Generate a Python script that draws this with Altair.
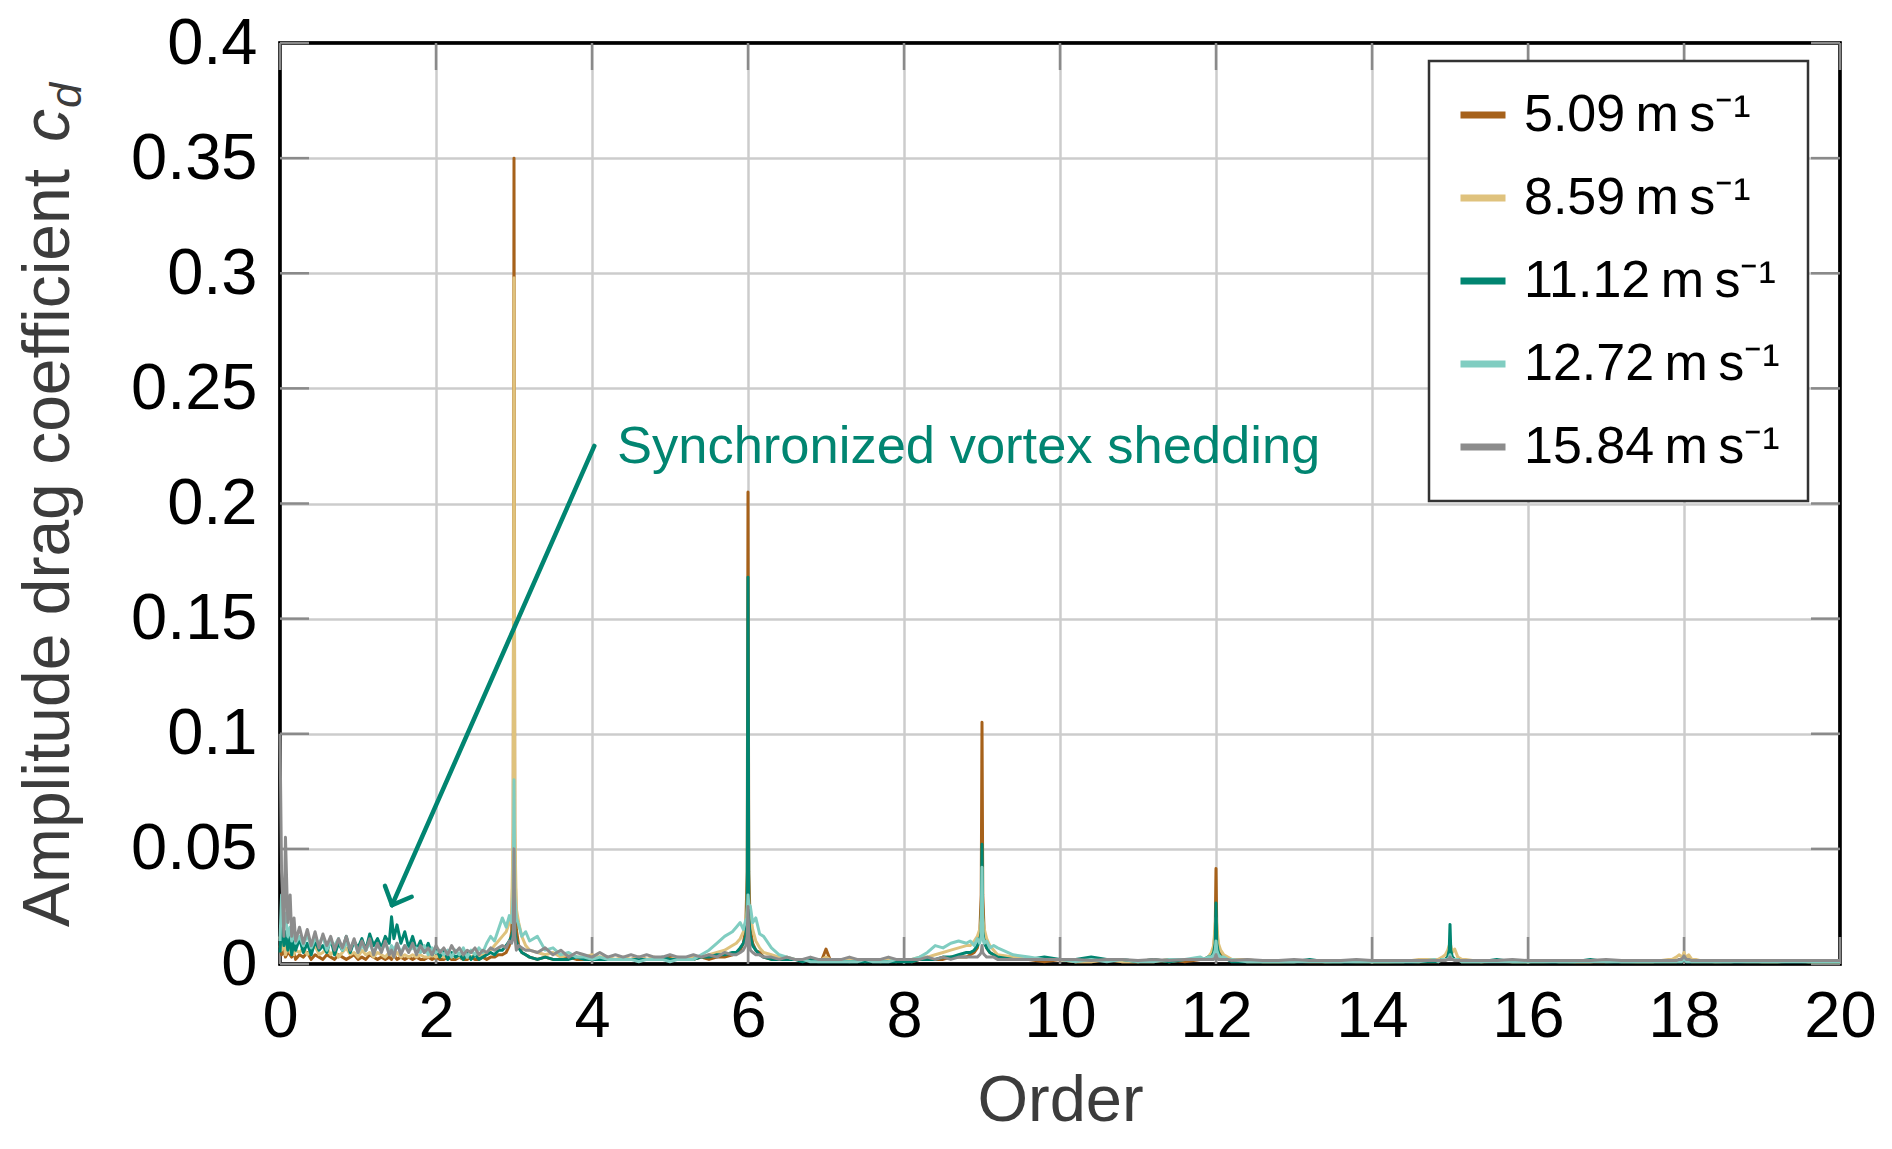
import altair as alt
import pandas as pd

FONT = "Liberation Sans"

# ---------------- data ----------------
ORDER = [
    0.00, 0.02, 0.05, 0.07, 0.10, 0.13, 0.15, 0.18, 0.20, 0.25,
    0.30, 0.35, 0.40, 0.45, 0.50, 0.55, 0.60, 0.65, 0.70, 0.75,
    0.80, 0.85, 0.90, 0.95, 1.00, 1.05, 1.10, 1.15, 1.20, 1.25,
    1.30, 1.35, 1.40, 1.43, 1.46, 1.50, 1.55, 1.60, 1.65, 1.70,
    1.75, 1.80, 1.85, 1.90, 1.95, 2.00, 2.05, 2.10, 2.15, 2.20,
    2.25, 2.30, 2.35, 2.40, 2.45, 2.50, 2.55, 2.60, 2.65, 2.70,
    2.75, 2.80,
    2.85, 2.90, 2.94, 2.97, 2.99, 3.00, 3.01, 3.03, 3.06, 3.10, 3.15,
    3.2, 3.3, 3.4, 3.5, 3.6, 3.7, 3.8, 3.9, 4.0, 4.1, 4.2, 4.3, 4.4, 4.5,
    4.6, 4.7, 4.8, 4.9, 5.0, 5.1, 5.2, 5.3, 5.4, 5.5, 5.6, 5.7, 5.8,
    5.85, 5.90, 5.94, 5.97, 5.99, 6.00, 6.01, 6.03, 6.06, 6.10, 6.15,
    6.2, 6.3, 6.4, 6.5, 6.6, 6.7, 6.8, 6.9,
    6.95, 7.0, 7.05,
    7.1, 7.2, 7.3, 7.4, 7.5, 7.6, 7.7, 7.8, 7.9, 8.0, 8.1, 8.2, 8.3, 8.4,
    8.5, 8.6, 8.7, 8.8,
    8.85, 8.90, 8.94, 8.97, 8.99, 9.00, 9.01, 9.03, 9.06, 9.10, 9.15,
    9.2, 9.4, 9.6, 9.8, 10.0, 10.2, 10.4, 10.6, 10.8, 11.0, 11.2, 11.4, 11.6, 11.8,
    11.85, 11.90, 11.94, 11.97, 11.99, 12.00, 12.01, 12.03, 12.06, 12.10, 12.15,
    12.2, 12.4, 12.6, 12.8, 13.0, 13.2, 13.4, 13.6, 13.8, 14.0, 14.2, 14.4, 14.6, 14.8,
    14.85, 14.90, 14.94, 14.97, 14.99, 15.00, 15.01, 15.03, 15.06, 15.10, 15.15,
    15.2, 15.4, 15.6, 15.8, 16.0, 16.2, 16.4, 16.6, 16.8, 17.0, 17.2, 17.4, 17.6, 17.8,
    17.85, 17.90, 17.94, 17.97, 17.99, 18.00, 18.01, 18.03, 18.06, 18.10, 18.15,
    18.2, 18.4, 18.6, 18.8, 19.0, 19.2, 19.4, 19.6, 19.8, 20.0,
]

AMP_509 = [
    0.008, 0.004, 0.006, 0.003, 0.005, 0.004, 0.003, 0.005, 0.002, 0.004,
    0.003, 0.005, 0.002, 0.004, 0.003, 0.002, 0.004, 0.003, 0.002, 0.004,
    0.003, 0.002, 0.003, 0.004, 0.002, 0.003, 0.002, 0.004, 0.003, 0.002,
    0.003, 0.002, 0.003, 0.002, 0.004, 0.002, 0.003, 0.002, 0.003, 0.002,
    0.003, 0.002, 0.002, 0.003, 0.002, 0.003, 0.002, 0.002, 0.003, 0.002,
    0.002, 0.003, 0.002, 0.002, 0.003, 0.002, 0.002, 0.003, 0.002, 0.003,
    0.003, 0.004,
    0.004, 0.005, 0.008, 0.014, 0.050, 0.350, 0.050, 0.015, 0.008, 0.005, 0.004,
    0.003, 0.002, 0.003, 0.002, 0.002, 0.003, 0.002, 0.002, 0.002, 0.003, 0.002, 0.002, 0.002, 0.002,
    0.003, 0.002, 0.002, 0.002, 0.003, 0.002, 0.002, 0.002, 0.003, 0.002, 0.003, 0.003, 0.004,
    0.005, 0.006, 0.009, 0.015, 0.040, 0.205, 0.040, 0.015, 0.009, 0.006, 0.005,
    0.003, 0.002, 0.002, 0.002, 0.002, 0.002, 0.002, 0.002,
    0.002, 0.0065, 0.002,
    0.002, 0.002, 0.001, 0.002, 0.001, 0.002, 0.001, 0.002, 0.001, 0.002, 0.001, 0.002, 0.002, 0.002,
    0.002, 0.003, 0.003, 0.003,
    0.004, 0.005, 0.007, 0.012, 0.030, 0.105, 0.030, 0.012, 0.007, 0.005, 0.004,
    0.003, 0.002, 0.002, 0.001, 0.002, 0.001, 0.001, 0.002, 0.001, 0.001, 0.001, 0.002, 0.001, 0.002,
    0.002, 0.003, 0.004, 0.007, 0.015, 0.0415, 0.015, 0.007, 0.004, 0.003, 0.002,
    0.002, 0.001, 0.001, 0.001, 0.0012, 0.001, 0.001, 0.0012, 0.001, 0.001, 0.001, 0.0012, 0.001, 0.001,
    0.001, 0.002, 0.002, 0.003, 0.004, 0.006, 0.004, 0.003, 0.002, 0.002, 0.001,
    0.001, 0.001, 0.0012, 0.001, 0.001, 0.001, 0.0012, 0.001, 0.001, 0.001, 0.0012, 0.001, 0.001, 0.001,
    0.001, 0.001, 0.002, 0.002, 0.003, 0.003, 0.003, 0.002, 0.002, 0.001, 0.001,
    0.001, 0.001, 0.0012, 0.001, 0.001, 0.001, 0.0012, 0.001, 0.001, 0.001,
]

AMP_859 = [
    0.012, 0.006, 0.010, 0.004, 0.008, 0.005, 0.007, 0.004, 0.006, 0.005,
    0.007, 0.004, 0.006, 0.008, 0.004, 0.005, 0.007, 0.004, 0.006, 0.003,
    0.005, 0.007, 0.004, 0.005, 0.003, 0.006, 0.004, 0.005, 0.003, 0.005,
    0.004, 0.003, 0.005, 0.004, 0.003, 0.005, 0.003, 0.004, 0.003, 0.004,
    0.003, 0.004, 0.003, 0.003, 0.004, 0.003, 0.004, 0.003, 0.003, 0.004,
    0.003, 0.003, 0.004, 0.003, 0.003, 0.004, 0.003, 0.004, 0.005, 0.006,
    0.008, 0.010,
    0.012, 0.014, 0.018, 0.022, 0.060, 0.298, 0.060, 0.024, 0.018, 0.012, 0.008,
    0.006, 0.005, 0.004, 0.005, 0.003, 0.004, 0.003, 0.003, 0.004, 0.003, 0.003, 0.002, 0.003, 0.002,
    0.003, 0.002, 0.003, 0.002, 0.002, 0.003, 0.002, 0.003, 0.003, 0.004, 0.005, 0.006, 0.008,
    0.009, 0.011, 0.014, 0.018, 0.025, 0.060, 0.025, 0.022, 0.015, 0.010, 0.007,
    0.005, 0.004, 0.003, 0.003, 0.002, 0.002, 0.002, 0.002,
    0.002, 0.003, 0.002,
    0.002, 0.002, 0.002, 0.002, 0.002, 0.002, 0.002, 0.002, 0.002, 0.002, 0.002, 0.003, 0.003, 0.004,
    0.005, 0.006, 0.007, 0.008,
    0.008, 0.010, 0.012, 0.015, 0.020, 0.030, 0.020, 0.015, 0.011, 0.008, 0.006,
    0.004, 0.003, 0.002, 0.002, 0.002, 0.001, 0.001, 0.002, 0.001, 0.001, 0.002, 0.001, 0.002, 0.002,
    0.002, 0.003, 0.005, 0.008, 0.0175, 0.020, 0.017, 0.009, 0.006, 0.004, 0.003,
    0.002, 0.002, 0.001, 0.001, 0.001, 0.0015, 0.001, 0.001, 0.0015, 0.001, 0.001, 0.001, 0.002, 0.002,
    0.002, 0.003, 0.004, 0.006, 0.008, 0.009, 0.008, 0.005, 0.0065, 0.003, 0.002,
    0.002, 0.001, 0.0015, 0.001, 0.001, 0.0015, 0.001, 0.001, 0.001, 0.0015, 0.001, 0.001, 0.001, 0.002,
    0.002, 0.003, 0.004, 0.003, 0.004, 0.005, 0.004, 0.003, 0.004, 0.002, 0.002,
    0.0015, 0.001, 0.001, 0.0015, 0.001, 0.001, 0.0015, 0.001, 0.001, 0.001,
]

AMP_1112 = [
    0.005, 0.018, 0.008, 0.014, 0.006, 0.012, 0.004, 0.010, 0.006, 0.011,
    0.005, 0.009, 0.004, 0.010, 0.006, 0.008, 0.005, 0.011, 0.004, 0.009,
    0.006, 0.012, 0.005, 0.010, 0.007, 0.011, 0.006, 0.013, 0.008, 0.011,
    0.007, 0.012, 0.009, 0.0205, 0.011, 0.017, 0.009, 0.014, 0.007, 0.012,
    0.006, 0.010, 0.005, 0.009, 0.004, 0.007, 0.003, 0.006, 0.002, 0.005,
    0.003, 0.004, 0.002, 0.005, 0.002, 0.004, 0.002, 0.003, 0.004, 0.005,
    0.004, 0.006,
    0.006, 0.008, 0.010, 0.012, 0.015, 0.025, 0.015, 0.010, 0.007, 0.005, 0.004,
    0.003, 0.002, 0.003, 0.002, 0.002, 0.002, 0.003, 0.002, 0.002, 0.002, 0.002, 0.002, 0.002, 0.002,
    0.002, 0.002, 0.002, 0.003, 0.002, 0.002, 0.002, 0.002, 0.003, 0.003, 0.004, 0.004, 0.005,
    0.005, 0.007, 0.009, 0.012, 0.020, 0.168, 0.020, 0.012, 0.008, 0.006, 0.004,
    0.003, 0.002, 0.002, 0.002, 0.002, 0.001, 0.002, 0.001,
    0.001, 0.001, 0.001,
    0.001, 0.001, 0.001, 0.001, 0.001, 0.001, 0.001, 0.001, 0.001, 0.001, 0.001, 0.002, 0.002, 0.002,
    0.003, 0.003, 0.004, 0.005,
    0.005, 0.006, 0.008, 0.010, 0.014, 0.052, 0.014, 0.009, 0.007, 0.005, 0.004,
    0.003, 0.002, 0.002, 0.003, 0.002, 0.002, 0.003, 0.002, 0.002, 0.001, 0.002, 0.001, 0.002, 0.002,
    0.002, 0.003, 0.003, 0.005, 0.009, 0.0265, 0.009, 0.005, 0.003, 0.002, 0.002,
    0.001, 0.001, 0.001, 0.001, 0.001, 0.002, 0.001, 0.001, 0.001, 0.001, 0.001, 0.001, 0.001, 0.001,
    0.001, 0.002, 0.002, 0.003, 0.006, 0.0172, 0.006, 0.003, 0.002, 0.002, 0.001,
    0.001, 0.001, 0.002, 0.001, 0.001, 0.001, 0.001, 0.001, 0.002, 0.001, 0.001, 0.001, 0.001, 0.001,
    0.001, 0.001, 0.001, 0.001, 0.002, 0.002, 0.002, 0.001, 0.001, 0.001, 0.001,
    0.001, 0.001, 0.001, 0.001, 0.001, 0.001, 0.001, 0.001, 0.001, 0.001,
]

AMP_1272 = [
    0.010, 0.030, 0.018, 0.022, 0.012, 0.016, 0.010, 0.014, 0.009, 0.012,
    0.008, 0.013, 0.007, 0.011, 0.009, 0.012, 0.006, 0.010, 0.008, 0.011,
    0.006, 0.009, 0.007, 0.010, 0.005, 0.008, 0.006, 0.009, 0.005, 0.008,
    0.006, 0.009, 0.005, 0.008, 0.006, 0.009, 0.005, 0.008, 0.006, 0.007,
    0.007, 0.005, 0.008, 0.004, 0.007, 0.005, 0.006, 0.004, 0.006, 0.003,
    0.006, 0.004, 0.007, 0.003, 0.006, 0.004, 0.007, 0.005, 0.009, 0.012,
    0.010, 0.015,
    0.020, 0.016, 0.021, 0.018, 0.030, 0.080, 0.030, 0.020, 0.017, 0.012, 0.014,
    0.010, 0.012, 0.006, 0.007, 0.004, 0.005, 0.003, 0.003, 0.002, 0.003, 0.002, 0.002, 0.002, 0.002,
    0.001, 0.002, 0.002, 0.002, 0.001, 0.002, 0.002, 0.002, 0.004, 0.006, 0.009, 0.012, 0.014,
    0.016, 0.018, 0.015, 0.019, 0.020, 0.030, 0.026, 0.025, 0.018, 0.020, 0.013,
    0.012, 0.007, 0.004, 0.003, 0.002, 0.002, 0.001, 0.001,
    0.001, 0.001, 0.001,
    0.001, 0.001, 0.001, 0.001, 0.002, 0.001, 0.001, 0.001, 0.002, 0.002, 0.002, 0.003, 0.005, 0.008,
    0.007, 0.009, 0.010, 0.009,
    0.010, 0.008, 0.011, 0.009, 0.012, 0.042, 0.012, 0.009, 0.010, 0.007, 0.008,
    0.007, 0.004, 0.003, 0.002, 0.002, 0.001, 0.002, 0.001, 0.002, 0.001, 0.001, 0.002, 0.002, 0.003,
    0.002, 0.003, 0.003, 0.004, 0.006, 0.010, 0.006, 0.004, 0.003, 0.003, 0.002,
    0.002, 0.001, 0.001, 0.001, 0.001, 0.001, 0.001, 0.001, 0.001, 0.001, 0.001, 0.001, 0.001, 0.002,
    0.001, 0.002, 0.002, 0.002, 0.003, 0.004, 0.003, 0.002, 0.002, 0.002, 0.001,
    0.001, 0.001, 0.001, 0.001, 0.001, 0.001, 0.001, 0.001, 0.001, 0.001, 0.001, 0.001, 0.001, 0.001,
    0.001, 0.001, 0.001, 0.001, 0.002, 0.002, 0.002, 0.001, 0.001, 0.001, 0.001,
    0.001, 0.001, 0.001, 0.001, 0.001, 0.001, 0.001, 0.001, 0.001, 0.001,
]

AMP_1584 = [
    0.100, 0.040, 0.012, 0.055, 0.018, 0.030, 0.012, 0.020, 0.010, 0.016,
    0.009, 0.015, 0.008, 0.014, 0.007, 0.013, 0.008, 0.012, 0.006, 0.011,
    0.007, 0.012, 0.006, 0.011, 0.005, 0.010, 0.006, 0.011, 0.004, 0.009,
    0.005, 0.010, 0.004, 0.006, 0.003, 0.009, 0.004, 0.008, 0.005, 0.009,
    0.004, 0.008, 0.005, 0.007, 0.004, 0.008, 0.005, 0.007, 0.004, 0.008,
    0.005, 0.007, 0.004, 0.006, 0.005, 0.007, 0.004, 0.006, 0.005, 0.007,
    0.006, 0.007,
    0.008, 0.007, 0.010, 0.009, 0.012, 0.050, 0.012, 0.006, 0.008, 0.007, 0.006,
    0.006, 0.005, 0.007, 0.004, 0.006, 0.003, 0.005, 0.004, 0.003, 0.005, 0.003, 0.004, 0.003, 0.004,
    0.003, 0.004, 0.003, 0.003, 0.004, 0.003, 0.003, 0.004, 0.003, 0.004, 0.003, 0.005, 0.004,
    0.004, 0.005, 0.006, 0.008, 0.012, 0.025, 0.012, 0.006, 0.005, 0.004, 0.004,
    0.003, 0.003, 0.002, 0.003, 0.002, 0.002, 0.003, 0.002,
    0.002, 0.002, 0.002,
    0.002, 0.002, 0.003, 0.002, 0.002, 0.002, 0.002, 0.003, 0.002, 0.002, 0.002, 0.002, 0.003, 0.002,
    0.003, 0.002, 0.003, 0.003,
    0.003, 0.003, 0.003, 0.004, 0.005, 0.008, 0.005, 0.004, 0.003, 0.003, 0.003,
    0.002, 0.002, 0.002, 0.002, 0.002, 0.002, 0.0015, 0.002, 0.002, 0.0015, 0.002, 0.0015, 0.002, 0.002,
    0.002, 0.002, 0.002, 0.002, 0.003, 0.004, 0.003, 0.002, 0.002, 0.002, 0.002,
    0.0015, 0.002, 0.0015, 0.0015, 0.002, 0.0015, 0.0015, 0.0015, 0.002, 0.0015, 0.0015, 0.0015, 0.0015, 0.0015,
    0.0015, 0.0015, 0.0015, 0.002, 0.002, 0.003, 0.002, 0.002, 0.0015, 0.0015, 0.0015,
    0.0015, 0.0015, 0.0015, 0.002, 0.0015, 0.0015, 0.0015, 0.0015, 0.0015, 0.002, 0.0015, 0.0015, 0.0015, 0.0015,
    0.0015, 0.0015, 0.002, 0.002, 0.003, 0.0035, 0.003, 0.002, 0.002, 0.0015, 0.0015,
    0.0015, 0.0015, 0.0015, 0.0015, 0.0015, 0.0015, 0.0015, 0.0015, 0.0015, 0.0015,
]

SERIES = [
    "5.09\u2009m\u2009s\u207b\u00b9",
    "8.59\u2009m\u2009s\u207b\u00b9",
    "11.12\u2009m\u2009s\u207b\u00b9",
    "12.72\u2009m\u2009s\u207b\u00b9",
    "15.84\u2009m\u2009s\u207b\u00b9",
]
COLORS = ["#a6611a", "#dfc27d", "#018571", "#80cdc1", "#8c8c8c"]
VALUES = [AMP_509, AMP_859, AMP_1112, AMP_1272, AMP_1584]

X_TICKS = [0, 2, 4, 6, 8, 10, 12, 14, 16, 18, 20]
Y_TICKS = [0, 0.05, 0.1, 0.15, 0.2, 0.25, 0.3, 0.35, 0.4]

ANNOTATION = "Synchronized vortex shedding"
ANNOT_POS = (4.32, 0.2176)
ARROW_X = [4.03, 1.436, 1.436]
ARROW_Y = [0.225, 0.0256, 0.0256]
ARROW_X2 = [1.436, 1.346, 1.688]
ARROW_Y2 = [0.0256, 0.0339, 0.0292]

Y_TITLE = "Amplitude drag coefficient"

# ---------------- build ----------------
rows = []
for name, vals in zip(SERIES, VALUES):
    assert len(vals) == len(ORDER), (name, len(vals), len(ORDER))
    for o, a in zip(ORDER, vals):
        rows.append({"order": o, "amp": a, "series": name})
df = pd.DataFrame(rows)

W, H = 1560, 921
INK = "#3c3c3c"

x_scale = alt.Scale(domain=[0, 20], nice=False, zero=False)
y_scale = alt.Scale(domain=[0, 0.4], nice=False)
color_scale = alt.Scale(domain=SERIES, range=COLORS)

x_axis = alt.Axis(
    values=X_TICKS, format="d", title="Order",
    labelFont=FONT, labelFontSize=65, labelColor="black", labelPadding=21,
    labelFlush=False, labelOverlap=False,
    titleFont=FONT, titleFontSize=65, titleColor=INK, titleFontWeight="normal",
    titlePadding=20,
    grid=True, gridColor="#cccccc", gridWidth=2.5,
    ticks=False, tickSize=0, domain=False,
)
y_axis = alt.Axis(
    values=Y_TICKS, format="~g", title=None,
    labelFont=FONT, labelFontSize=65, labelColor="black", labelPadding=23,
    labelFlush=False, labelOverlap=False,
    grid=True, gridColor="#cccccc", gridWidth=2.5,
    ticks=False, tickSize=0, domain=False,
)

X = alt.X("order:Q", scale=x_scale, axis=x_axis)
Y = alt.Y("amp:Q", scale=y_scale, axis=y_axis)

legend = alt.Legend(
    title=None, orient="none", legendX=1149, legendY=18,
    symbolType="stroke", symbolStrokeWidth=7, symbolSize=2025,
    labelFont=FONT, labelFontSize=52, labelColor="black", labelLimit=600,
    labelOffset=15, rowPadding=31, padding=28,
    strokeColor="#333333", fillColor="white",
)

tick_x_df = pd.DataFrame({"order": X_TICKS})
tick_y_df = pd.DataFrame({"amp": Y_TICKS})
TICK_COLOR = "#8a8a8a"

one = pd.DataFrame({"k": [0]})

frame = alt.Chart(one).mark_rect(filled=False, stroke="black", strokeWidth=3.5).encode(
    x=alt.value(0), x2=alt.value(W), y=alt.value(0), y2=alt.value(H))

ticks_bottom = alt.Chart(tick_x_df).mark_rule(color=TICK_COLOR, strokeWidth=2.5).encode(
    x=X, y=alt.value(H), y2=alt.value(H - 27))
ticks_top = alt.Chart(tick_x_df).mark_rule(color=TICK_COLOR, strokeWidth=2.5).encode(
    x=X, y=alt.value(0), y2=alt.value(27))
ticks_left = alt.Chart(tick_y_df).mark_rule(color=TICK_COLOR, strokeWidth=2.5).encode(
    y=Y, x=alt.value(0), x2=alt.value(29))
ticks_right = alt.Chart(tick_y_df).mark_rule(color=TICK_COLOR, strokeWidth=2.5).encode(
    y=Y, x=alt.value(W), x2=alt.value(W - 29))

line_layers = []
for name in SERIES:
    line_layers.append(
        alt.Chart(df).transform_filter(alt.datum.series == name)
        .mark_line(strokeWidth=3, strokeJoin="round")
        .encode(x=X, y=Y, color=alt.Color("series:N", scale=color_scale, legend=legend))
    )

arrow_df = pd.DataFrame({"order": ARROW_X, "amp": ARROW_Y, "order2": ARROW_X2, "amp2": ARROW_Y2})
arrow = alt.Chart(arrow_df).mark_rule(color="#018571", strokeWidth=4.5, strokeCap="round").encode(
    x=X, y=Y, x2="order2", y2="amp2")

annot_df = pd.DataFrame({"order": [ANNOT_POS[0]], "amp": [ANNOT_POS[1]], "label": [ANNOTATION]})
annot = alt.Chart(annot_df).mark_text(
    align="left", baseline="alphabetic", font=FONT, fontSize=52.5, color="#018571"
).encode(x=X, y=Y, text="label:N")

ytitle_main = alt.Chart(one).mark_text(
    text=Y_TITLE, angle=270, align="center", baseline="alphabetic",
    font=FONT, fontSize=66, color=INK,
).encode(x=alt.value(-211), y=alt.value(505))
ytitle_c = alt.Chart(one).mark_text(
    text="c", angle=270, align="left", baseline="alphabetic",
    font=FONT, fontSize=66, fontStyle="italic", color=INK,
).encode(x=alt.value(-211), y=alt.value(99))
ytitle_d = alt.Chart(one).mark_text(
    text="d", angle=270, align="left", baseline="alphabetic",
    font=FONT, fontSize=45, fontStyle="italic", color=INK,
).encode(x=alt.value(-199), y=alt.value(65))

chart = alt.layer(
    frame, ticks_bottom, ticks_top, ticks_left, ticks_right,
    *line_layers,
    arrow, annot, ytitle_main, ytitle_c, ytitle_d,
).properties(
    width=W, height=H,
    padding={"left": 272, "top": 35, "right": 36, "bottom": 172},
    autosize=alt.AutoSizeParams(type="none"),
).configure(font=FONT).configure_view(
    stroke="black", strokeWidth=3
).configure_legend(strokeWidth=2.5)

chart.save("out.html", embed_options={"renderer": "svg", "actions": False})
